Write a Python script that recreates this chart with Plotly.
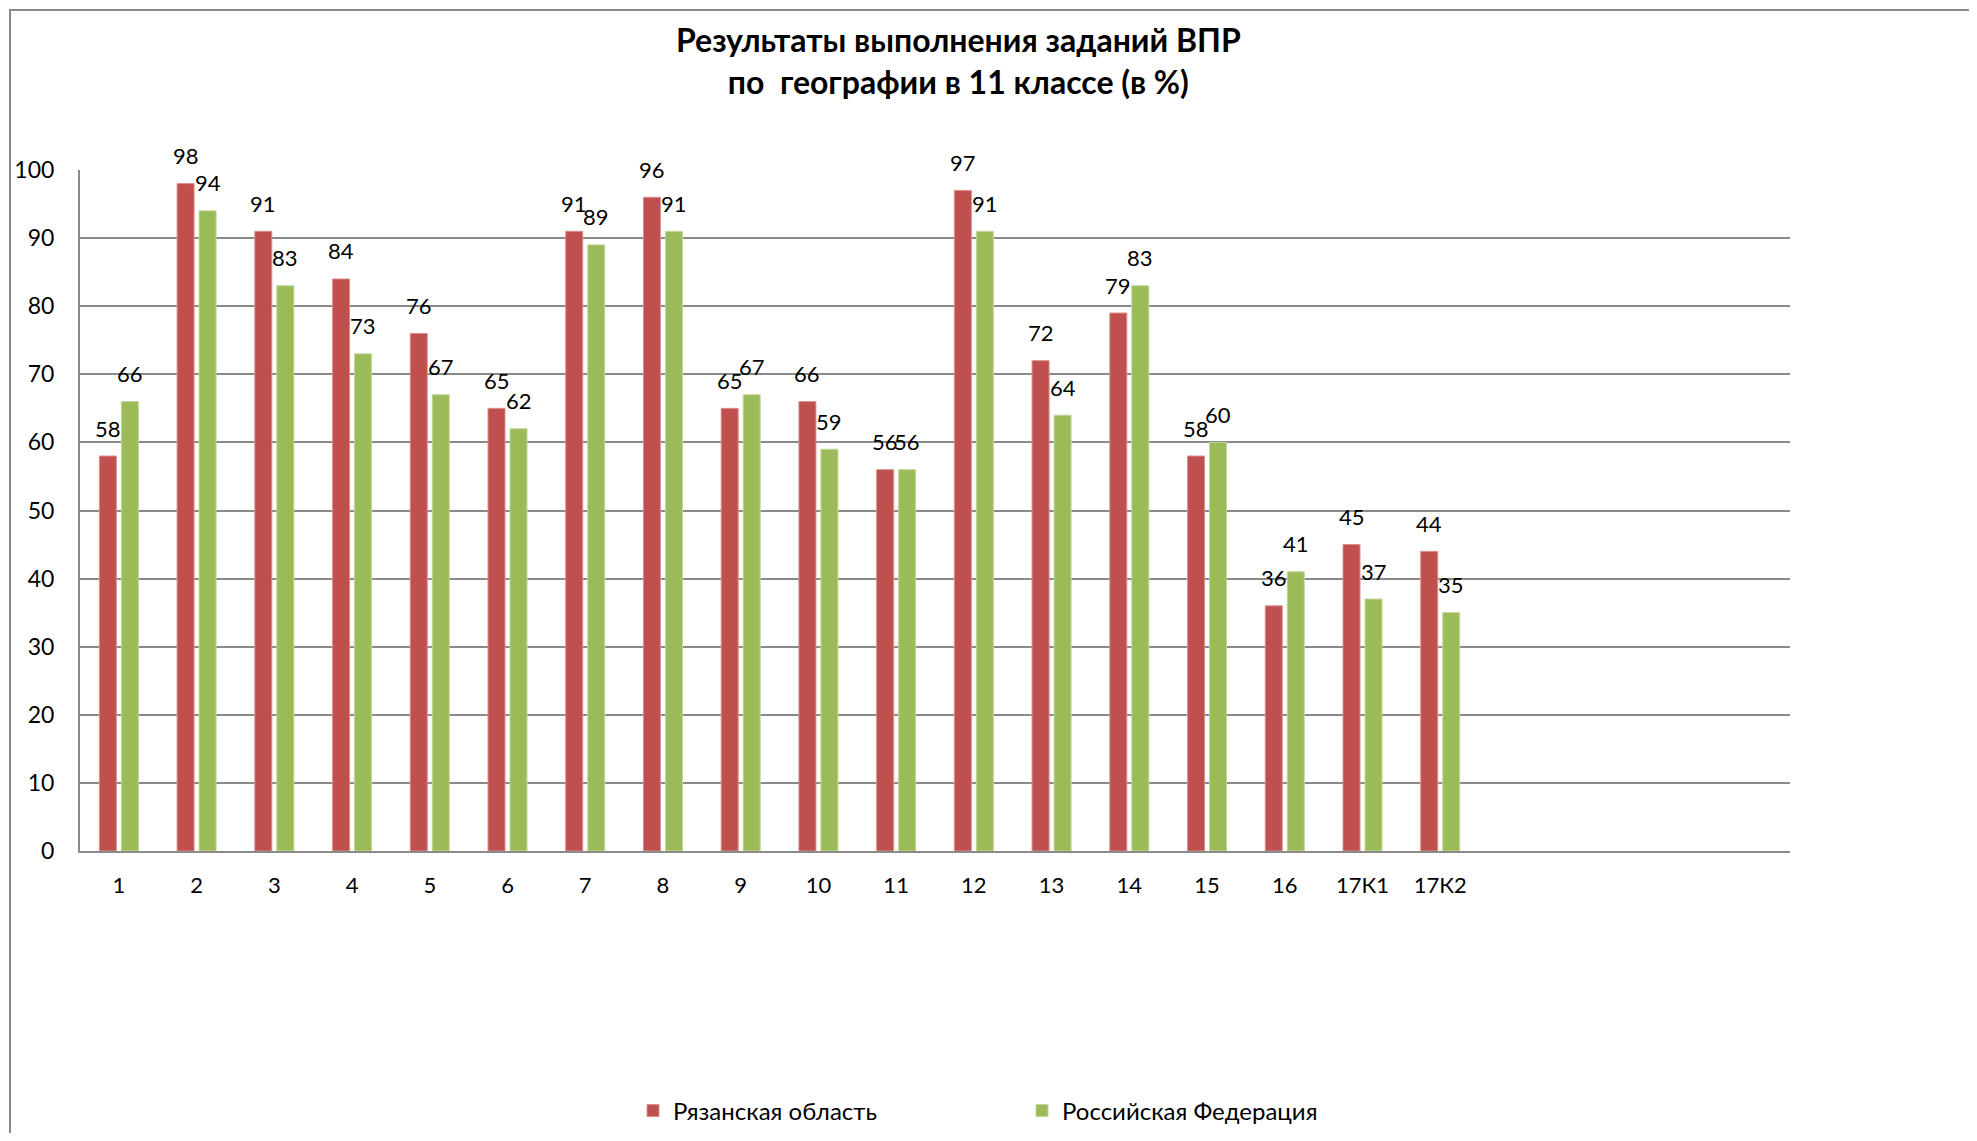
import plotly.graph_objects as go

categories = ["1", "2", "3", "4", "5", "6", "7", "8", "9", "10", "11", "12",
              "13", "14", "15", "16", "17К1", "17К2"]
ryazan = [58, 98, 91, 84, 76, 65, 91, 96, 65, 66, 56, 97, 72, 79, 58, 36, 45, 44]
russia = [66, 94, 83, 73, 67, 62, 89, 91, 67, 59, 56, 91, 64, 83, 60, 41, 37, 35]
series_names = ["Рязанская область", "Российская Федерация"]
y_ticks = [0, 10, 20, 30, 40, 50, 60, 70, 80, 90, 100]

RED = "#C0504D"
GREEN = "#9BBB59"
FONT = "Lato"
OFF = 8  # page body margin
W, H = 1977 - 2 * OFF, 1141 - 2 * OFF
# plot area in screen pixels: x 80..1790, y 170..851
L, T = 80 - OFF, 170 - OFF
R = W - (1790 - OFF)
B = H - (851 - OFF)
PW, PH = W - L - R, H - T - B

def px_x(px):
    return (px - OFF - L) / PW

def px_y(py):
    return (H - B - (py - OFF)) / PH

fig = go.Figure()
fig.add_trace(go.Bar(x=categories, y=ryazan, name=series_names[0],
                     marker=dict(color=RED, line=dict(color="#D9908E", width=1))))
fig.add_trace(go.Bar(x=categories, y=russia, name=series_names[1],
                     marker=dict(color=GREEN, line=dict(color="#C3D69B", width=1))))

annotations = []
for vals, shift in ((ryazan, -11), (russia, 11)):
    for i, v in enumerate(vals):
        annotations.append(dict(x=i, y=v, xref="x", yref="y", text=str(v),
                                showarrow=False, xshift=shift, yshift=28,
                                yanchor="middle",
                                font=dict(family=FONT, size=22, color="black")))

annotations.append(dict(
    x=px_x(958), y=px_y(60), xref="paper", yref="paper",
    text="<b>Результаты выполнения заданий ВПР<br>по  географии в 11 классе (в %)</b>",
    showarrow=False, xanchor="center", yanchor="middle",
    font=dict(family=FONT, size=32, color="black")))

fig.update_layout(
    width=W, height=H,
    margin=dict(l=L, r=R, t=T, b=B, autoexpand=False),
    paper_bgcolor="white", plot_bgcolor="white",
    barmode="group", bargap=0.434, bargroupgap=0.227,
    font=dict(family=FONT, size=22, color="black"),
    annotations=annotations,
    showlegend=True,
    legend=dict(orientation="h", x=px_x(633), y=px_y(1111),
                xanchor="left", yanchor="middle",
                font=dict(family=FONT, size=24, color="black"),
                entrywidth=344, entrywidthmode="pixels", traceorder="normal"),
    shapes=[dict(type="rect", xref="paper", yref="paper",
                 x0=px_x(10), y0=px_y(1400), x1=px_x(2200), y1=px_y(10),
                 line=dict(color="#8A8A8A", width=2), fillcolor="rgba(0,0,0,0)",
                 layer="below")],
)

fig.update_xaxes(type="category", range=[-0.5, 21.5], showgrid=False,
                 showline=True, linecolor="#8A8A8A", linewidth=2,
                 ticks="", ticklabelstandoff=14,
                 tickfont=dict(family=FONT, size=22, color="black"))
fig.update_yaxes(range=[0, 100], tickvals=y_ticks, showgrid=True,
                 gridcolor="#8A8A8A", gridwidth=2, zeroline=False,
                 showline=True, linecolor="#8A8A8A", linewidth=2,
                 ticks="", ticklabelstandoff=19,
                 tickfont=dict(family=FONT, size=23, color="black"))

fig.write_html("out.html")
